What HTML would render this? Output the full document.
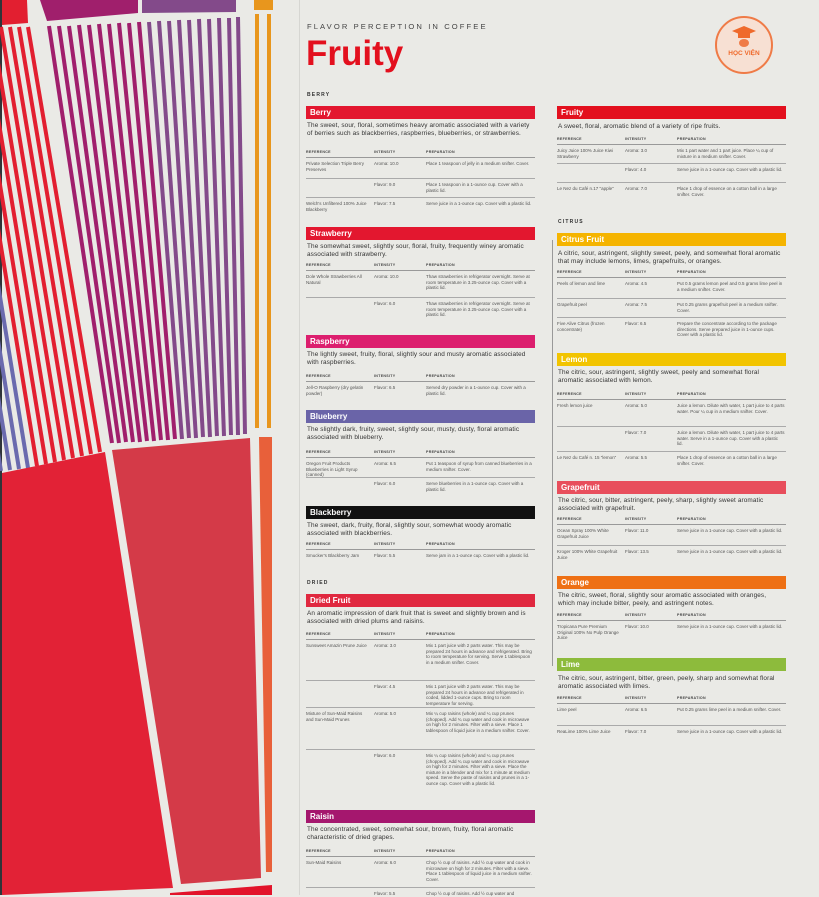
<!DOCTYPE html>
<html><head><meta charset="utf-8"><style>
*{margin:0;padding:0;box-sizing:border-box}
body{width:819px;height:895px;overflow:hidden;background:#eaeae6;font-family:"Liberation Sans",sans-serif;position:relative;color:#333}
.a{position:absolute}
.bar{position:absolute;width:229px;height:13px;color:#fff;font-weight:bold;font-size:8px;line-height:13px;padding-left:4px}
.d{position:absolute;width:225px;font-size:6.4px;line-height:7.5px;letter-spacing:.12px;color:#333}
.th{position:absolute;width:229px;height:8px;border-bottom:0.8px solid #999;font-size:3.6px;font-weight:bold;letter-spacing:.3px;color:#444}
.th span,.r span{position:absolute;top:0}
.r{position:absolute;width:229px;border-top:0.8px solid #aaa;font-size:4.5px;line-height:5.5px;color:#555}
.r span{top:3px}
.c1{left:0;width:64px}.c2{left:68px}.c3{left:120px;width:108px}
.lab{position:absolute;font-size:5px;font-weight:bold;letter-spacing:1.2px;color:#333}
</style></head><body>
<svg class="a" style="left:0;top:0" width="300" height="895" viewBox="0 0 300 895">
<rect x="0" y="0" width="2" height="895" fill="#2f3438"/>
<polygon points="2,0 27,0 28,23 2,25" fill="#e21f30"/>
<polygon points="40,0 138,0 138,13 47,21" fill="#a01f6c"/>
<polygon points="142,0 236,0 236,12 142,13" fill="#834a8a"/>
<rect x="254" y="0" width="19" height="10" fill="#e8961d"/>
<g stroke="#e21f30" stroke-width="4">
<line x1="28" y1="27" x2="100" y2="452"/><line x1="19" y1="27" x2="91" y2="454"/><line x1="10" y1="27" x2="82" y2="456"/><line x1="1" y1="27" x2="73" y2="458"/><line x1="-8" y1="27" x2="64" y2="460"/><line x1="-17" y1="27" x2="55" y2="462"/><line x1="-26" y1="27" x2="46" y2="464"/><line x1="-35" y1="27" x2="37" y2="466"/>
</g>
<g stroke="#6a6aae" stroke-width="4">
<line x1="-44" y1="27" x2="28" y2="468"/><line x1="-53" y1="27" x2="19" y2="469"/><line x1="-62" y1="27" x2="10" y2="470"/><line x1="-71" y1="27" x2="1" y2="471"/>
</g>
<g stroke-width="4">
<line x1="49" y1="26" x2="112" y2="443" stroke="#a01f6c"/><line x1="59" y1="26" x2="119" y2="443" stroke="#a01f6c"/><line x1="69" y1="26" x2="126" y2="442" stroke="#a01f6c"/><line x1="79" y1="25" x2="133" y2="442" stroke="#a01f6c"/><line x1="89" y1="25" x2="140" y2="442" stroke="#a01f6c"/><line x1="99" y1="24" x2="147" y2="441" stroke="#a01f6c"/><line x1="109" y1="24" x2="154" y2="441" stroke="#a01f6c"/><line x1="119" y1="23" x2="161" y2="440" stroke="#a01f6c"/><line x1="129" y1="23" x2="168" y2="440" stroke="#a01f6c"/><line x1="139" y1="22" x2="175" y2="439" stroke="#a01f6c"/>
<line x1="149" y1="22" x2="182" y2="439" stroke="#834a8a"/><line x1="159" y1="21" x2="189" y2="438" stroke="#834a8a"/><line x1="169" y1="21" x2="196" y2="438" stroke="#834a8a"/><line x1="179" y1="20" x2="203" y2="437" stroke="#834a8a"/><line x1="189" y1="20" x2="210" y2="437" stroke="#834a8a"/><line x1="199" y1="19" x2="217" y2="436" stroke="#834a8a"/><line x1="209" y1="19" x2="224" y2="436" stroke="#834a8a"/><line x1="219" y1="18" x2="231" y2="435" stroke="#834a8a"/><line x1="229" y1="18" x2="238" y2="435" stroke="#834a8a"/><line x1="238" y1="17" x2="245" y2="434" stroke="#834a8a"/>
</g>
<rect x="255" y="14" width="4" height="414" fill="#e8961d"/>
<rect x="267" y="14" width="4" height="414" fill="#e8961d"/>
<polygon points="2,473 105,452 173,888 2,895" fill="#e22236"/>
<polygon points="112,450 250,438 261,878 181,884" fill="#d43a48"/>
<polygon points="259,437 272,437 272,872 266,872" fill="#e8603a"/>
<polygon points="170,893 272,885 272,895 170,895" fill="#e2132a"/>
</svg>
<div class="a" style="left:299px;top:0;width:1px;height:895px;background:#d6d6d2"></div>
<div class="a" style="left:307px;top:22px;font-size:7.6px;letter-spacing:2.1px;color:#444">FLAVOR PERCEPTION IN COFFEE</div>
<div class="a" style="left:306px;top:34px;font-size:35px;font-weight:bold;color:#e3101e">Fruity</div>
<div class="a" style="left:715px;top:16px;width:58px;height:58px;border-radius:50%;background:#f7e0d3;border:2px solid #ef7b47"></div>
<svg class="a" style="left:732px;top:26px" width="24" height="22" viewBox="0 0 24 22"><polygon points="12,0 24,5 12,10 0,5" fill="#ef6a2c"/><rect x="6" y="7" width="12" height="5" fill="#ef6a2c"/><ellipse cx="12" cy="17" rx="5" ry="4" fill="#ef7b47"/></svg>
<div class="a" style="left:715px;top:50px;width:58px;text-align:center;font-size:6.5px;font-weight:bold;color:#ef6a2c">HỌC VIỆN</div>

<div class="lab" style="left:307px;top:92px">BERRY</div>
<div class="bar" style="left:306px;top:106px;background:#e3172f">Berry</div>
<div class="d" style="left:307px;top:122px">The sweet, sour, floral, sometimes heavy aromatic associated with a variety of berries such as blackberries, raspberries, blueberries, or strawberries.</div>
<div class="th" style="left:306px;top:150px"><span class="c1">REFERENCE</span><span class="c2">INTENSITY</span><span class="c3">PREPARATION</span></div>
<div class="r" style="left:306px;top:158px;height:20px;border-top:0"><span class="c1">Private Selection Triple Berry Preserves</span><span class="c2">Aroma: 10.0</span><span class="c3">Place 1 teaspoon of jelly in a medium snifter. Cover.</span></div>
<div class="r" style="left:306px;top:178px;height:19px"><span class="c2">Flavor: 9.0</span><span class="c3">Place 1 teaspoon in a 1-ounce cup. Cover with a plastic lid.</span></div>
<div class="r" style="left:306px;top:197px;height:18px"><span class="c1">Welch's Unfiltered 100% Juice Blackberry</span><span class="c2">Flavor: 7.5</span><span class="c3">Serve juice in a 1-ounce cup. Cover with a plastic lid.</span></div>

<div class="bar" style="left:306px;top:227px;background:#e3172f">Strawberry</div>
<div class="d" style="left:307px;top:243px">The somewhat sweet, slightly sour, floral, fruity, frequently winey aromatic associated with strawberry.</div>
<div class="th" style="left:306px;top:263px"><span class="c1">REFERENCE</span><span class="c2">INTENSITY</span><span class="c3">PREPARATION</span></div>
<div class="r" style="left:306px;top:271px;height:26px;border-top:0"><span class="c1">Dole Whole Strawberries All Natural</span><span class="c2">Aroma: 10.0</span><span class="c3">Thaw strawberries in refrigerator overnight. Serve at room temperature in 3.25-ounce cup. Cover with a plastic lid.</span></div>
<div class="r" style="left:306px;top:297px;height:26px"><span class="c2">Flavor: 6.0</span><span class="c3">Thaw strawberries in refrigerator overnight. Serve at room temperature in 3.25-ounce cup. Cover with a plastic lid.</span></div>

<div class="bar" style="left:306px;top:335px;background:#dc1f6e">Raspberry</div>
<div class="d" style="left:307px;top:351px">The lightly sweet, fruity, floral, slightly sour and musty aromatic associated with raspberries.</div>
<div class="th" style="left:306px;top:374px"><span class="c1">REFERENCE</span><span class="c2">INTENSITY</span><span class="c3">PREPARATION</span></div>
<div class="r" style="left:306px;top:382px;height:18px;border-top:0"><span class="c1">Jell-O Raspberry (dry gelatin powder)</span><span class="c2">Flavor: 6.5</span><span class="c3">Served dry powder in a 1-ounce cup. Cover with a plastic lid.</span></div>

<div class="bar" style="left:306px;top:410px;background:#6a64a8">Blueberry</div>
<div class="d" style="left:307px;top:426px">The slightly dark, fruity, sweet, slightly sour, musty, dusty, floral aromatic associated with blueberry.</div>
<div class="th" style="left:306px;top:450px"><span class="c1">REFERENCE</span><span class="c2">INTENSITY</span><span class="c3">PREPARATION</span></div>
<div class="r" style="left:306px;top:458px;height:19px;border-top:0"><span class="c1">Oregon Fruit Products Blueberries in Light Syrup (canned)</span><span class="c2">Aroma: 6.5</span><span class="c3">Put 1 teaspoon of syrup from canned blueberries in a medium snifter. Cover.</span></div>
<div class="r" style="left:306px;top:477px;height:18px"><span class="c2">Flavor: 6.0</span><span class="c3">Serve blueberries in a 1-ounce cup. Cover with a plastic lid.</span></div>

<div class="bar" style="left:306px;top:506px;background:#111">Blackberry</div>
<div class="d" style="left:307px;top:522px">The sweet, dark, fruity, floral, slightly sour, somewhat woody aromatic associated with blackberries.</div>
<div class="th" style="left:306px;top:542px"><span class="c1">REFERENCE</span><span class="c2">INTENSITY</span><span class="c3">PREPARATION</span></div>
<div class="r" style="left:306px;top:550px;height:20px;border-top:0"><span class="c1">Smucker's Blackberry Jam</span><span class="c2">Flavor: 5.5</span><span class="c3">Serve jam in a 1-ounce cup. Cover with a plastic lid.</span></div>

<div class="lab" style="left:307px;top:580px">DRIED</div>
<div class="bar" style="left:306px;top:594px;background:#e0283f">Dried Fruit</div>
<div class="d" style="left:307px;top:610px">An aromatic impression of dark fruit that is sweet and slightly brown and is associated with dried plums and raisins.</div>
<div class="th" style="left:306px;top:632px"><span class="c1">REFERENCE</span><span class="c2">INTENSITY</span><span class="c3">PREPARATION</span></div>
<div class="r" style="left:306px;top:640px;height:40px;border-top:0"><span class="c1">Sunsweet Amazin Prune Juice</span><span class="c2">Aroma: 3.0</span><span class="c3">Mix 1 part juice with 2 parts water. This may be prepared 24 hours in advance and refrigerated. Bring to room temperature for serving. Serve 1 tablespoon in a medium snifter. Cover.</span></div>
<div class="r" style="left:306px;top:680px;height:27px"><span class="c2">Flavor: 4.5</span><span class="c3">Mix 1 part juice with 2 parts water. This may be prepared 24 hours in advance and refrigerated in coded, lidded 1-ounce cups. Bring to room temperature for serving.</span></div>
<div class="r" style="left:306px;top:707px;height:42px"><span class="c1">Mixture of Sun-Maid Raisins and Sun-Maid Prunes</span><span class="c2">Aroma: 5.0</span><span class="c3">Mix ¼ cup raisins (whole) and ¼ cup prunes (chopped). Add ¾ cup water and cook in microwave on high for 2 minutes. Filter with a sieve. Place 1 tablespoon of liquid juice in a medium snifter. Cover.</span></div>
<div class="r" style="left:306px;top:749px;height:52px"><span class="c2">Flavor: 6.0</span><span class="c3">Mix ¼ cup raisins (whole) and ¼ cup prunes (chopped). Add ¾ cup water and cook in microwave on high for 2 minutes. Filter with a sieve. Place the mixture in a blender and mix for 1 minute at medium speed. Serve the paste of raisins and prunes in a 1-ounce cup. Cover with a plastic lid.</span></div>

<div class="bar" style="left:306px;top:810px;background:#a5176e">Raisin</div>
<div class="d" style="left:307px;top:826px">The concentrated, sweet, somewhat sour, brown, fruity, floral aromatic characteristic of dried grapes.</div>
<div class="th" style="left:306px;top:849px"><span class="c1">REFERENCE</span><span class="c2">INTENSITY</span><span class="c3">PREPARATION</span></div>
<div class="r" style="left:306px;top:857px;height:30px;border-top:0"><span class="c1">Sun-Maid Raisins</span><span class="c2">Aroma: 6.0</span><span class="c3">Chop ½ cup of raisins. Add ½ cup water and cook in microwave on high for 2 minutes. Filter with a sieve. Place 1 tablespoon of liquid juice in a medium snifter. Cover.</span></div>
<div class="r" style="left:306px;top:887px;height:10px"><span class="c2">Flavor: 5.5</span><span class="c3">Chop ½ cup of raisins. Add ½ cup water and</span></div>

<!-- column 2 -->
<div class="bar" style="left:557px;top:106px;background:#e3101e">Fruity</div>
<div class="d" style="left:558px;top:123px">A sweet, floral, aromatic blend of a variety of ripe fruits.</div>
<div class="th" style="left:557px;top:137px"><span class="c1">REFERENCE</span><span class="c2">INTENSITY</span><span class="c3">PREPARATION</span></div>
<div class="r" style="left:557px;top:145px;height:18px;border-top:0"><span class="c1">Juicy Juice 100% Juice Kiwi Strawberry</span><span class="c2">Aroma: 3.0</span><span class="c3">Mix 1 part water and 1 part juice. Place ¼ cup of mixture in a medium snifter. Cover.</span></div>
<div class="r" style="left:557px;top:163px;height:19px"><span class="c2">Flavor: 4.0</span><span class="c3">Serve juice in a 1-ounce cup. Cover with a plastic lid.</span></div>
<div class="r" style="left:557px;top:182px;height:18px"><span class="c1">Le Nez du Café n.17 "apple"</span><span class="c2">Aroma: 7.0</span><span class="c3">Place 1 drop of essence on a cotton ball in a large snifter. Cover.</span></div>

<div class="lab" style="left:558px;top:219px">CITRUS</div>
<div class="a" style="left:552px;top:240px;width:0.8px;height:426px;background:#999"></div>
<div class="bar" style="left:557px;top:233px;background:#f5b400">Citrus Fruit</div>
<div class="d" style="left:558px;top:250px">A citric, sour, astringent, slightly sweet, peely, and somewhat floral aromatic that may include lemons, limes, grapefruits, or oranges.</div>
<div class="th" style="left:557px;top:270px"><span class="c1">REFERENCE</span><span class="c2">INTENSITY</span><span class="c3">PREPARATION</span></div>
<div class="r" style="left:557px;top:278px;height:20px;border-top:0"><span class="c1">Peels of lemon and lime</span><span class="c2">Aroma: 4.5</span><span class="c3">Put 0.5 grams lemon peel and 0.5 grams lime peel in a medium snifter. Cover.</span></div>
<div class="r" style="left:557px;top:298px;height:19px"><span class="c1">Grapefruit peel</span><span class="c2">Aroma: 7.5</span><span class="c3">Put 0.25 grams grapefruit peel in a medium snifter. Cover.</span></div>
<div class="r" style="left:557px;top:317px;height:28px"><span class="c1">Five Alive Citrus (frozen concentrate)</span><span class="c2">Flavor: 6.5</span><span class="c3">Prepare the concentrate according to the package directions. Serve prepared juice in 1-ounce cups. Cover with a plastic lid.</span></div>

<div class="bar" style="left:557px;top:353px;background:#f2c400">Lemon</div>
<div class="d" style="left:558px;top:369px">The citric, sour, astringent, slightly sweet, peely and somewhat floral aromatic associated with lemon.</div>
<div class="th" style="left:557px;top:392px"><span class="c1">REFERENCE</span><span class="c2">INTENSITY</span><span class="c3">PREPARATION</span></div>
<div class="r" style="left:557px;top:400px;height:26px;border-top:0"><span class="c1">Fresh lemon juice</span><span class="c2">Aroma: 5.0</span><span class="c3">Juice a lemon. Dilute with water, 1 part juice to 4 parts water. Pour ¼ cup in a medium snifter. Cover.</span></div>
<div class="r" style="left:557px;top:426px;height:25px"><span class="c2">Flavor: 7.0</span><span class="c3">Juice a lemon. Dilute with water, 1 part juice to 4 parts water. Serve in a 1-ounce cup. Cover with a plastic lid.</span></div>
<div class="r" style="left:557px;top:451px;height:20px"><span class="c1">Le Nez du Café n. 15 "lemon"</span><span class="c2">Aroma: 5.5</span><span class="c3">Place 1 drop of essence on a cotton ball in a large snifter. Cover.</span></div>

<div class="bar" style="left:557px;top:481px;background:#e84e5c">Grapefruit</div>
<div class="d" style="left:558px;top:497px">The citric, sour, bitter, astringent, peely, sharp, slightly sweet aromatic associated with grapefruit.</div>
<div class="th" style="left:557px;top:517px"><span class="c1">REFERENCE</span><span class="c2">INTENSITY</span><span class="c3">PREPARATION</span></div>
<div class="r" style="left:557px;top:525px;height:20px;border-top:0"><span class="c1">Ocean Spray 100% White Grapefruit Juice</span><span class="c2">Flavor: 11.0</span><span class="c3">Serve juice in a 1-ounce cup. Cover with a plastic lid.</span></div>
<div class="r" style="left:557px;top:545px;height:20px"><span class="c1">Kroger 100% White Grapefruit Juice</span><span class="c2">Flavor: 13.5</span><span class="c3">Serve juice in a 1-ounce cup. Cover with a plastic lid.</span></div>

<div class="bar" style="left:557px;top:576px;background:#ee7014">Orange</div>
<div class="d" style="left:558px;top:592px">The citric, sweet, floral, slightly sour aromatic associated with oranges, which may include bitter, peely, and astringent notes.</div>
<div class="th" style="left:557px;top:613px"><span class="c1">REFERENCE</span><span class="c2">INTENSITY</span><span class="c3">PREPARATION</span></div>
<div class="r" style="left:557px;top:621px;height:26px;border-top:0"><span class="c1">Tropicana Pure Premium Original 100% No Pulp Orange Juice</span><span class="c2">Flavor: 10.0</span><span class="c3">Serve juice in a 1-ounce cup. Cover with a plastic lid.</span></div>

<div class="bar" style="left:557px;top:658px;background:#8dbb3c">Lime</div>
<div class="d" style="left:558px;top:675px">The citric, sour, astringent, bitter, green, peely, sharp and somewhat floral aromatic associated with limes.</div>
<div class="th" style="left:557px;top:696px"><span class="c1">REFERENCE</span><span class="c2">INTENSITY</span><span class="c3">PREPARATION</span></div>
<div class="r" style="left:557px;top:704px;height:21px;border-top:0"><span class="c1">Lime peel</span><span class="c2">Aroma: 6.5</span><span class="c3">Put 0.25 grams lime peel in a medium snifter. Cover.</span></div>
<div class="r" style="left:557px;top:725px;height:20px"><span class="c1">ReaLime 100% Lime Juice</span><span class="c2">Flavor: 7.0</span><span class="c3">Serve juice in a 1-ounce cup. Cover with a plastic lid.</span></div>
</body></html>
